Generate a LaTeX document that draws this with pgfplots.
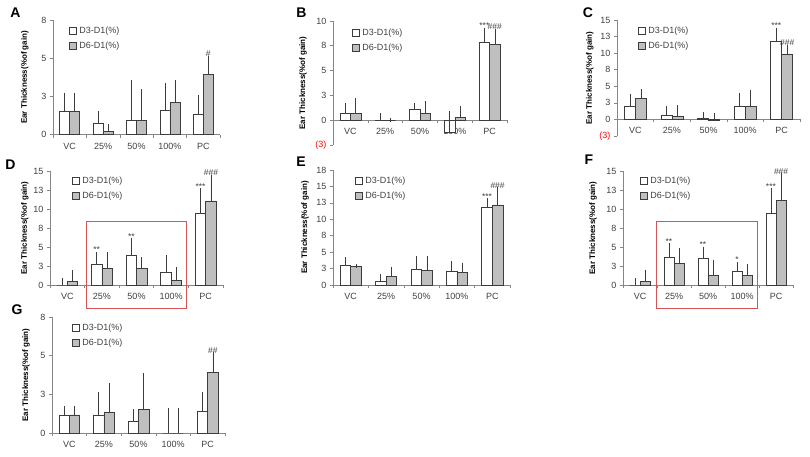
\documentclass[border=0pt]{standalone}
\usepackage{fontspec}
\setmainfont{Liberation Sans}
\usepackage{pgfplots}
\usepackage{pgfplotstable}
\pgfplotsset{compat=1.18}
\definecolor{axisgray}{RGB}{134,134,134}
\definecolor{labelgray}{RGB}{64,64,64}
\definecolor{bargray}{RGB}{191,191,191}
\definecolor{edgegray}{RGB}{60,60,60}
\definecolor{boxred}{RGB}{214,84,84}

\pgfplotstableread{
x a ae b be
0 1.60 1.20 1.60 1.20
1 0.79 0.70 0.21 0.39
2 1.02 2.65 1.02 2.00
3 1.72 1.72 2.26 1.41
4 1.42 1.21 4.21 1.16
}\dataA
\pgfplotstableread{
x a ae b be
0 0.68 0.85 0.68 1.36
1 0.00 0.51 0.00 0.00
2 1.09 0.41 0.68 1.02
3 -1.19 1.87 0.31 0.95
4 7.86 1.26 7.65 1.36
}\dataB
\pgfplotstableread{
x a ae b be
0 1.94 1.53 3.21 1.02
1 0.66 1.07 0.51 1.33
2 0.20 0.62 -0.12 0.73
3 1.94 1.78 1.94 2.14
4 11.73 1.77 9.90 1.07
}\dataC
\pgfplotstableread{
x a ae b be
0 0.00 0.66 0.44 1.22
1 2.67 1.40 2.23 1.84
2 3.89 1.97 2.23 1.18
3 1.62 2.01 0.57 1.53
4 9.44 3.02 11.06 3.19
}\dataD
\pgfplotstableread{
x a ae b be
0 2.98 0.97 2.83 0.00
1 0.61 0.76 1.32 1.16
2 2.43 1.67 2.28 1.82
3 2.12 1.22 1.92 1.17
4 11.84 1.06 12.19 2.38
}\dataE
\pgfplotstableread{
x a ae b be
0 0.00 0.66 0.44 1.31
1 3.63 1.57 2.89 1.66
2 3.45 1.32 1.31 1.75
3 1.79 0.96 1.22 1.32
4 9.44 3.02 11.15 3.28
}\dataF
\pgfplotstableread{
x a ae b be
0 1.25 0.46 1.25 0.46
1 1.25 1.46 1.41 1.87
2 0.81 0.69 1.62 2.38
3 0.00 1.62 0.00 1.62
4 1.48 1.18 4.18 1.25
}\dataG

\pgfplotsset{
  panel/.style={
    scale only axis, anchor=south west, clip=false,
    xmin=-0.5, xmax=4.5,
    axis x line*=middle, axis y line*=left,
    axis line style={draw=axisgray, line width=0.6pt},
    xtick={0,1,2,3,4}, xticklabels={VC,25\%,50\%,100\%,PC},
    minor xtick={-0.5,0.5,1.5,2.5,3.5,4.5},
    major x tick style={draw=none},
    minor x tick style={draw=axisgray, line width=0.6pt},
    ytick style={draw=axisgray, line width=0.6pt},
    major tick length=3pt, minor tick length=3pt,
    tick align=outside,
    /pgf/number format/assume math mode=true,
    tick label style={font=\fontsize{9}{10}\selectfont, text=labelgray},
    xticklabel style={yshift=-1.5pt},
    ylabel={Ear Thickness(\%of gain)},
    ylabel style={font=\bfseries\fontsize{8}{9}\selectfont, anchor=center},
    ybar, bar width=0.3,
    error bars/y dir=plus, error bars/y explicit,
    error bars/error bar style={draw=edgegray, line width=0.6pt},
    error bars/error mark options={draw=edgegray, line width=0.6pt, mark size=2pt},
    legend style={draw=none, fill=none, at={(axis description cs:0,1)}, anchor=north west,
      font=\fontsize{9}{10}\selectfont, text=labelgray, inner sep=0pt,
      nodes={inner sep=1pt}, row sep=5pt, column sep=1.5pt, legend cell align=left},
    legend image code/.code={\draw[##1,/tikz/.cd,line width=0.6pt] (0pt,-3.5pt) rectangle (7pt,3.5pt);},
  },
  d3/.style={fill=white, draw=edgegray, line width=0.6pt, bar shift=-0.15},
  d6/.style={fill=bargray, draw=edgegray, line width=0.6pt, bar shift=0.15},
}
\tikzset{
  sig/.style={font=\fontsize{8.5}{9}\selectfont, text=labelgray, anchor=south, inner sep=1pt},
  letter/.style={font=\bfseries\fontsize{14}{15}\selectfont, inner sep=0pt, anchor=center},
}

\begin{document}
\begin{tikzpicture}
\useasboundingbox (0pt,0pt) rectangle (810pt,-457pt);
\node[letter] at (15.5pt,-12.7pt) {A};
\node[letter] at (301.5pt,-13pt) {B};
\node[letter] at (588pt,-13pt) {C};
\node[letter] at (10.5pt,-164.5pt) {D};
\node[letter] at (301pt,-161.5pt) {E};
\node[letter] at (589pt,-160pt) {F};
\node[letter] at (17pt,-309.5pt) {G};

% A
\begin{axis}[panel, at={(53pt,-134.7pt)}, width=167pt, height=114.7pt,
  ymin=0, ymax=8, ytick={0,2.6667,5.3333,8}, yticklabels={0,3,5,8},
  ylabel style={at={(axis description cs:-0.168,0.5)}},
  legend style={xshift=16pt, yshift=-5.5pt}]
\addplot[d3] table[x=x,y=a,y error=ae]{\dataA};
\addplot[d6] table[x=x,y=b,y error=be]{\dataA};
\legend{D3-D1(\%),D6-D1(\%)}
\node[sig] at (axis cs:4.15,5.37) {\#};
\end{axis}

% B
\begin{axis}[panel, at={(333pt,-145pt)}, width=174pt, height=124pt,
  ymin=-2.5, ymax=10, ytick={-2.5,0,2.5,5,7.5,10},
  yticklabels={\textcolor{red}{(3)},0,3,5,8,10},
  ylabel style={at={(axis description cs:-0.172,0.5)}},
  legend style={xshift=19pt, yshift=-6.5pt}]
\addplot[d3] table[x=x,y=a,y error=ae]{\dataB};
\addplot[d6] table[x=x,y=b,y error=be]{\dataB};
\legend{D3-D1(\%),D6-D1(\%)}
\node[sig] at (axis cs:3.85,9.12) {***};
\node[sig] at (axis cs:4.15,9.01) {\#\#\#};
\end{axis}

% C
\begin{axis}[panel, at={(617pt,-136pt)}, width=183pt, height=116pt,
  ymin=-2.5, ymax=15, ytick={-2.5,0,2.5,5,7.5,10,12.5,15},
  yticklabels={\textcolor{red}{(3)},0,3,5,8,10,13,15},
  ylabel style={at={(axis description cs:-0.148,0.5)}},
  legend style={xshift=21pt, yshift=-5.5pt}]
\addplot[d3] table[x=x,y=a,y error=ae]{\dataC};
\addplot[d6] table[x=x,y=b,y error=be]{\dataC};
\legend{D3-D1(\%),D6-D1(\%)}
\node[sig] at (axis cs:3.85,13.5) {***};
\node[sig] at (axis cs:4.15,10.97) {\#\#\#};
\end{axis}

% D
\begin{axis}[panel, at={(50pt,-285pt)}, width=173pt, height=114pt,
  ymin=0, ymax=15, ytick={0,2.5,5,7.5,10,12.5,15},
  yticklabels={0,3,5,8,10,13,15},
  ylabel style={at={(axis description cs:-0.145,0.5)}},
  legend style={xshift=22pt, yshift=-4.5pt}]
\addplot[d3] table[x=x,y=a,y error=ae]{\dataD};
\addplot[d6] table[x=x,y=b,y error=be]{\dataD};
\legend{D3-D1(\%),D6-D1(\%)}
\node[sig] at (axis cs:0.85,4.07) {**};
\node[sig] at (axis cs:1.85,5.86) {**};
\node[sig] at (axis cs:3.85,12.46) {***};
\node[sig] at (axis cs:4.15,14.25) {\#\#\#};
\draw[boxred, line width=0.8pt] (axis cs:0.54,8.42) rectangle (axis cs:3.43,-3.03);
\end{axis}

% E
\begin{axis}[panel, at={(333pt,-285pt)}, width=177pt, height=115pt,
  ymin=0, ymax=17.5, ytick={0,2.5,5,7.5,10,12.5,15,17.5},
  yticklabels={0,3,5,8,10,13,15,18},
  ylabel style={at={(axis description cs:-0.158,0.5)}},
  legend style={xshift=22pt, yshift=-5.5pt}]
\addplot[d3] table[x=x,y=a,y error=ae]{\dataE};
\addplot[d6] table[x=x,y=b,y error=be]{\dataE};
\legend{D3-D1(\%),D6-D1(\%)}
\node[sig] at (axis cs:3.85,12.9) {***};
\node[sig] at (axis cs:4.15,14.57) {\#\#\#};
\end{axis}

% F
\begin{axis}[panel, at={(623pt,-285pt)}, width=170pt, height=114pt,
  ymin=0, ymax=15, ytick={0,2.5,5,7.5,10,12.5,15},
  yticklabels={0,3,5,8,10,13,15},
  ylabel style={at={(axis description cs:-0.176,0.5)}},
  legend style={xshift=17pt, yshift=-4.5pt}]
\addplot[d3] table[x=x,y=a,y error=ae]{\dataF};
\addplot[d6] table[x=x,y=b,y error=be]{\dataF};
\legend{D3-D1(\%),D6-D1(\%)}
\node[sig] at (axis cs:0.85,5.2) {**};
\node[sig] at (axis cs:1.85,4.77) {**};
\node[sig] at (axis cs:2.85,2.75) {*};
\node[sig] at (axis cs:3.85,12.46) {***};
\node[sig] at (axis cs:4.15,14.43) {\#\#\#};
\draw[boxred, line width=0.8pt] (axis cs:0.48,8.42) rectangle (axis cs:3.44,-3.03);
\end{axis}

% G
\begin{axis}[panel, at={(52pt,-433pt)}, width=173pt, height=116pt,
  ymin=0, ymax=8, ytick={0,2.6667,5.3333,8}, yticklabels={0,3,5,8},
  ylabel style={at={(axis description cs:-0.150,0.5)}},
  legend style={xshift=20pt, yshift=-5.5pt}]
\addplot[d3] table[x=x,y=a,y error=ae]{\dataG};
\addplot[d6] table[x=x,y=b,y error=be]{\dataG};
\legend{D3-D1(\%),D6-D1(\%)}
\node[sig] at (axis cs:4.15,5.43) {\#\#};
\end{axis}
\end{tikzpicture}
\end{document}
